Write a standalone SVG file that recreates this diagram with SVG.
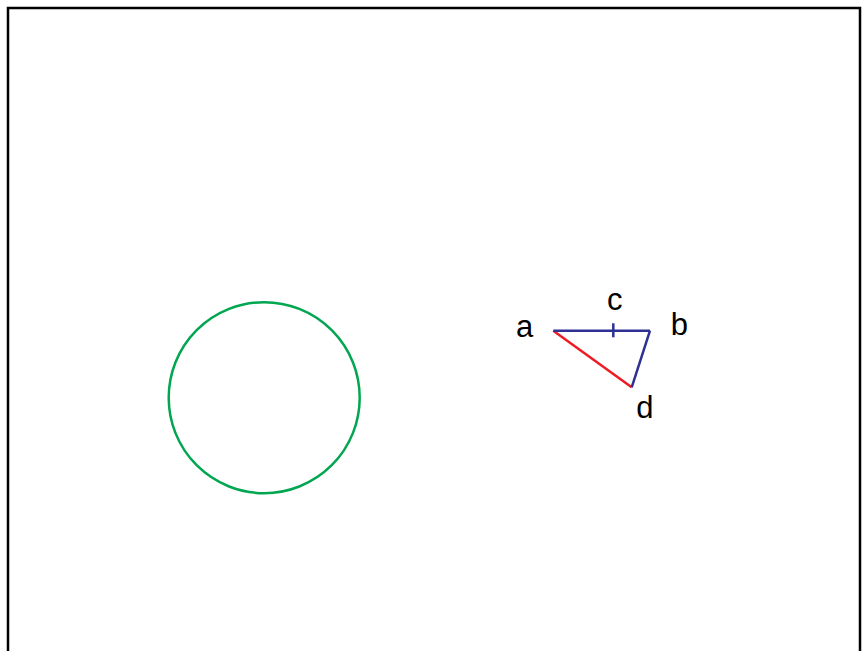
<svg xmlns="http://www.w3.org/2000/svg" width="863" height="651" viewBox="0 0 863 651">
<style>
.lbl{font-family:"Liberation Sans",Arial,sans-serif;font-size:31px;fill:#000}
.blue{stroke:#2e3192;stroke-width:2.5;fill:none}
.red{stroke:#ed1c24;stroke-width:2.5;fill:none}
</style>
<rect x="0" y="0" width="863" height="651" fill="#fff"/>
<rect id="frame" x="8" y="8" width="852" height="660" fill="none" stroke="#000" stroke-width="2.5"/>
<g id="circle"><circle cx="264.2" cy="397.7" r="95.5" fill="none" stroke="#00a650" stroke-width="2.5"/></g>
<g id="connectors">
<line class="red" x1="553.3" y1="330.7" x2="631.7" y2="387.3"/>
<line class="blue" x1="553.3" y1="330.7" x2="650" y2="330.7"/>
<line class="blue" x1="650" y1="330.7" x2="631.7" y2="387.3"/>
<line class="blue" x1="613.3" y1="323.3" x2="613.3" y2="337.3"/>
</g>
<g id="a"><text class="lbl" x="516" y="336.5">a</text></g>
<g id="b"><text class="lbl" x="670.7" y="335">b</text></g>
<g id="c"><text class="lbl" x="607" y="309.5">c</text></g>
<g id="d"><text class="lbl" x="636.2" y="417.5">d</text></g>
</svg>
